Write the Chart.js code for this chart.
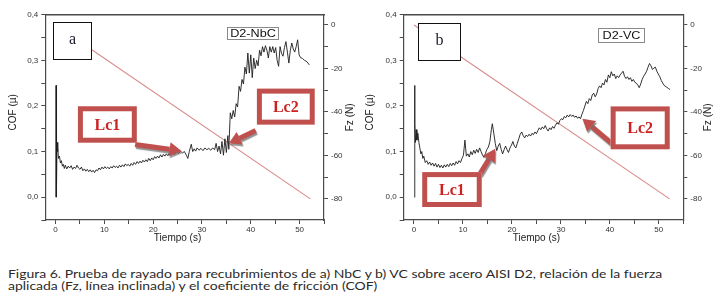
<!DOCTYPE html>
<html><head><meta charset="utf-8">
<script src="https://cdn.jsdelivr.net/npm/chart.js@4/dist/chart.umd.min.js"></script>
<style>
html,body{margin:0;padding:0;background:#fff;}
#wrap{position:relative;width:723px;height:304px;overflow:hidden;background:#fff;}
#ca{position:absolute;left:0;top:0;width:360px;height:250px;}
#cb{position:absolute;left:360px;top:0;width:363px;height:250px;}
#cap{position:absolute;left:8px;top:267.5px;font-family:Lato,'Open Sans',sans-serif;font-size:12px;line-height:12.8px;color:#2b2b2b;white-space:nowrap;transform:scaleX(1.164);transform-origin:0 0;}
</style></head>
<body><div id="wrap">
<canvas id="ca" width="360" height="250"></canvas>
<canvas id="cb" width="363" height="250"></canvas>
<div id="cap">Figura 6. Prueba de rayado para recubrimientos de a) NbC y b) VC sobre acero AISI D2, relación de la fuerza<br>aplicada (Fz, línea inclinada) y el coeficiente de fricción (COF)</div>
</div>
<script>
// ---- data (panel a: D2-NbC) ----
const timeA = [
 0.05,0.1,0.15,0.2,0.25,0.3,0.4,0.5,0.6,0.8,
 1.0,1.2,1.4,1.6,1.8,2.0,2.3,2.6,2.9,3.2,
 3.5,3.8,4.1,4.4,4.7,5.0,5.3,5.6,5.9,6.2,
 6.5,6.8,7.1,7.4,7.7,8.0,8.3,8.6,8.9,9.2,
 9.5,9.8,10.1,10.4,10.7,11.0,11.3,11.6,11.9,12.2,
 12.5,12.8,13.1,13.4,13.7,14.0,14.3,14.6,14.9,15.2,
 15.5,15.8,16.1,16.4,16.7,17.0,17.3,17.6,17.9,18.2,
 18.5,18.8,19.1,19.4,19.7,20.0,20.3,20.6,20.9,21.2,
 21.5,21.8,22.1,22.4,22.7,23.0,23.3,23.6,24.0,24.4,
 24.8,25.2,25.6,26.0,26.4,26.8,27.1,27.4,27.8,28.1,
 28.4,28.7,29.0,29.4,29.8,30.2,30.6,31.0,31.4,31.8,
 32.2,32.6,32.9,33.2,33.5,33.8,34.1,34.4,34.7,35.0,
 35.3,35.5,35.8,36.1,36.4,36.7,37.0,37.3,37.6,37.9,
 38.2,38.5,38.8,39.1,39.4,39.7,40.0,40.3,40.6,40.9,
 41.2,41.5,41.8,42.1,42.4,42.7,43.0,43.3,43.6,43.9,
 44.2,44.5,44.8,45.1,45.4,45.7,46.0,46.3,46.6,46.9,
 47.2,47.5,47.8,48.1,48.4,48.7,49.0,49.3,49.6,49.9,
 50.2,50.6,51.0,51.5,52.0];
const cofA = [
 0.000,0.245,0.000,0.135,0.030,0.120,0.100,0.110,0.085,0.090,
 0.075,0.080,0.068,0.072,0.063,0.070,0.062,0.068,0.064,0.069,
 0.061,0.066,0.063,0.070,0.064,0.061,0.066,0.058,0.062,0.057,
 0.061,0.056,0.060,0.055,0.059,0.054,0.060,0.058,0.064,0.060,
 0.066,0.062,0.067,0.063,0.066,0.062,0.067,0.064,0.069,0.065,
 0.068,0.064,0.070,0.066,0.071,0.067,0.073,0.069,0.072,0.068,
 0.074,0.070,0.076,0.072,0.078,0.074,0.079,0.075,0.081,0.077,
 0.082,0.078,0.085,0.080,0.086,0.082,0.089,0.085,0.090,0.086,
 0.093,0.088,0.094,0.090,0.095,0.091,0.097,0.093,0.098,0.094,
 0.100,0.096,0.101,0.097,0.100,0.092,0.085,0.100,0.116,0.100,
 0.106,0.101,0.108,0.103,0.107,0.102,0.108,0.104,0.107,0.103,
 0.108,0.104,0.118,0.100,0.112,0.095,0.122,0.092,0.128,0.098,
 0.135,0.105,0.185,0.172,0.190,0.176,0.205,0.198,0.243,0.232,
 0.258,0.248,0.285,0.270,0.316,0.272,0.312,0.262,0.305,0.282,
 0.300,0.288,0.322,0.310,0.330,0.318,0.332,0.322,0.305,0.330,
 0.318,0.330,0.316,0.328,0.300,0.287,0.330,0.315,0.309,0.328,
 0.341,0.318,0.294,0.322,0.338,0.325,0.318,0.330,0.345,0.312,
 0.306,0.304,0.300,0.297,0.290];

// ---- data (panel b: D2-VC) ----
const timeB = [
 0.08,0.12,0.16,0.2,0.3,0.45,0.6,0.8,1.0,1.2,
 1.4,1.6,1.8,2.0,2.3,2.6,2.9,3.2,3.5,3.8,
 4.1,4.4,4.7,5.0,5.3,5.6,5.9,6.2,6.5,6.8,
 7.1,7.4,7.7,8.0,8.3,8.6,8.9,9.2,9.5,9.8,
 10.1,10.4,10.7,11.0,11.3,11.6,11.9,12.2,12.5,12.8,
 13.1,13.4,13.7,14.0,14.3,14.6,14.9,15.2,15.5,15.8,
 16.0,16.3,16.6,16.9,17.2,17.5,17.8,18.1,18.4,18.7,
 19.0,19.3,19.6,19.9,20.2,20.5,20.8,21.1,21.4,21.7,
 22.0,22.3,22.6,22.9,23.2,23.5,23.8,24.1,24.4,24.7,
 25.0,25.3,25.6,25.9,26.2,26.5,26.8,27.1,27.4,27.7,
 28.0,28.3,28.6,28.9,29.2,29.5,29.8,30.1,30.4,30.7,
 31.0,31.3,31.6,31.9,32.2,32.5,32.8,33.1,33.4,33.7,
 34.0,34.3,34.6,34.9,35.2,35.5,35.8,36.1,36.4,36.7,
 37.0,37.3,37.6,37.9,38.2,38.5,38.8,39.1,39.4,39.7,
 40.0,40.3,40.6,40.9,41.2,41.5,41.8,42.1,42.4,42.7,
 43.0,43.3,43.6,43.9,44.2,44.5,44.8,45.1,45.4,45.7,
 46.0,46.3,46.6,46.9,47.2,47.5,47.8,48.1,48.4,48.7,
 49.0,49.3,49.6,49.9,50.2,50.5,50.8,51.1,51.5,52.0,
 52.3];
const cofB = [
 0.000,0.245,0.010,0.160,0.120,0.148,0.125,0.140,0.120,0.108,
 0.095,0.100,0.085,0.090,0.076,0.080,0.072,0.077,0.070,0.075,
 0.068,0.074,0.066,0.072,0.065,0.070,0.064,0.071,0.066,0.072,
 0.067,0.074,0.069,0.075,0.070,0.078,0.073,0.080,0.076,0.085,
 0.092,0.125,0.090,0.095,0.088,0.100,0.093,0.103,0.096,0.105,
 0.098,0.108,0.100,0.092,0.087,0.096,0.105,0.110,0.122,0.148,
 0.161,0.140,0.118,0.102,0.112,0.118,0.105,0.095,0.104,0.112,
 0.104,0.098,0.108,0.114,0.122,0.112,0.108,0.118,0.128,0.138,
 0.143,0.135,0.130,0.136,0.133,0.138,0.134,0.140,0.137,0.143,
 0.139,0.146,0.152,0.148,0.154,0.150,0.157,0.150,0.145,0.152,
 0.148,0.155,0.151,0.158,0.163,0.160,0.168,0.172,0.170,0.177,
 0.174,0.180,0.176,0.181,0.177,0.180,0.175,0.178,0.173,0.176,
 0.172,0.182,0.190,0.200,0.210,0.205,0.216,0.212,0.224,0.228,
 0.220,0.226,0.238,0.244,0.240,0.250,0.246,0.258,0.252,0.268,
 0.262,0.275,0.266,0.270,0.260,0.266,0.262,0.268,0.272,0.276,
 0.265,0.260,0.264,0.258,0.262,0.254,0.258,0.252,0.250,0.246,
 0.240,0.248,0.258,0.265,0.270,0.276,0.285,0.293,0.288,0.280,
 0.283,0.285,0.276,0.270,0.264,0.256,0.250,0.245,0.242,0.238,
 0.236];

// applied normal force (inclined line)
const fzTime = [0, 52.2];
const fzForce = [0, -80];

// ---- helpers ----
const RED = '#c0504d';
function drawArrow(ctx, x0, y0, x1, y1) {
  const a = Math.atan2(y1 - y0, x1 - x0), hl = 12, hw = 7;
  const bx = x1 - hl * Math.cos(a), by = y1 - hl * Math.sin(a);
  ctx.beginPath(); ctx.moveTo(x0, y0); ctx.lineTo(bx, by);
  ctx.lineWidth = 5; ctx.lineCap = 'butt'; ctx.stroke();
  ctx.beginPath(); ctx.moveTo(x1, y1);
  ctx.lineTo(bx - hw * Math.sin(a), by + hw * Math.cos(a));
  ctx.lineTo(bx + hw * Math.sin(a), by - hw * Math.cos(a));
  ctx.closePath(); ctx.fill();
}

const decoPlugin = {
  id: 'deco',
  afterDatasetsDraw(chart, args, o) {
    const ctx = chart.ctx, xs = chart.scales.x, ys = chart.scales.y, ca = chart.chartArea;
    const px = t => xs.getPixelForValue(t), py = c => ys.getPixelForValue(c);
    ctx.save();
    // letter box
    {
      const b = o.letter.box;
      const x0 = Math.round(px(b[0])) + 0.5, x1 = Math.round(px(b[1])) + 0.5;
      const y0 = Math.round(py(b[2])) + 0.5, y1 = Math.round(py(b[3])) + 0.5;
      ctx.fillStyle = '#fff'; ctx.fillRect(x0, y0, x1 - x0, y1 - y0);
      ctx.strokeStyle = '#111'; ctx.lineWidth = 1; ctx.strokeRect(x0, y0, x1 - x0, y1 - y0);
      ctx.fillStyle = '#1a1a2a'; ctx.font = '16px "Liberation Serif"';
      ctx.textAlign = 'center'; ctx.textBaseline = 'middle';
      ctx.fillText(o.letter.text, (x0 + x1) / 2, (y0 + y1) / 2 - 1);
    }
    // sample tag
    {
      const b = o.tag.box;
      const x0 = Math.round(px(b[0])) + 0.5, x1 = Math.round(px(b[1])) + 0.5;
      const y0 = Math.round(py(b[2])) + 0.5, y1 = Math.round(py(b[3])) + 0.5;
      ctx.fillStyle = '#fff'; ctx.fillRect(x0, y0, x1 - x0, y1 - y0);
      ctx.strokeStyle = '#8a8a8a'; ctx.lineWidth = 1; ctx.strokeRect(x0, y0, x1 - x0, y1 - y0);
      ctx.save();
      ctx.translate((x0 + x1) / 2, (y0 + y1) / 2 + 0.5);
      ctx.scale(1.15, 1);
      ctx.fillStyle = '#111'; ctx.font = '11px "Liberation Sans"';
      ctx.textAlign = 'center'; ctx.textBaseline = 'middle';
      ctx.fillText(o.tag.text, 0, 0);
      ctx.restore();
    }
    // Lc annotations
    for (const m of o.marks) {
      ctx.save();
      ctx.shadowColor = 'rgba(110,110,110,0.75)';
      ctx.shadowOffsetX = 1; ctx.shadowOffsetY = 2; ctx.shadowBlur = 1;
      ctx.strokeStyle = RED; ctx.fillStyle = RED;
      drawArrow(ctx, px(m.from[0]), py(m.from[1]), px(m.to[0]), py(m.to[1]));
      ctx.restore();
      const x0 = px(m.box[0]), x1 = px(m.box[1]), y0 = py(m.box[2]), y1 = py(m.box[3]);
      ctx.fillStyle = '#fff'; ctx.fillRect(x0, y0, x1 - x0, y1 - y0);
      ctx.strokeStyle = RED; ctx.lineWidth = 5;
      ctx.strokeRect(x0 + 2.5, y0 + 2.5, x1 - x0 - 5, y1 - y0 - 5);
      ctx.fillStyle = '#cc2222'; ctx.font = 'bold 16px "Liberation Serif"';
      ctx.textAlign = 'center'; ctx.textBaseline = 'middle';
      ctx.fillText(m.text, (x0 + x1) / 2, (y0 + y1) / 2 + 1);
    }
    // axis titles
    ctx.fillStyle = '#222'; ctx.font = '10px "Liberation Sans"';
    ctx.textAlign = 'center'; ctx.textBaseline = 'middle';
    const mid = (ca.top + ca.bottom) / 2;
    ctx.save(); ctx.translate(ca.left - o.cofDx, mid - 5); ctx.rotate(-Math.PI / 2);
    ctx.fillText('COF (µ)', 0, 0); ctx.restore();
    ctx.save(); ctx.translate(ca.right + o.fzDx, mid); ctx.rotate(-Math.PI / 2);
    ctx.fillText('Fz (N)', 0, 0); ctx.restore();
    ctx.fillText('Tiempo (s)', px(25), ca.bottom + 18);
    ctx.restore();
  }
};

const AX = '#4a4a4a';
const tickFont = {size: 8, family: '"Liberation Sans"'};
function makeChart(id, times, cofs, leftW, rightW, deco) {
  return new Chart(document.getElementById(id), {
    type: 'line',
    data: {
      datasets: [
        {data: times.map((t, i) => ({x: t, y: cofs[i]})), yAxisID: 'y',
         borderColor: '#1c1c1c', borderWidth: 0.9, pointRadius: 0, tension: 0},
        {data: fzTime.map((t, i) => ({x: t, y: fzForce[i]})), yAxisID: 'y2',
         borderColor: '#d98a8a', borderWidth: 1.1, pointRadius: 0, tension: 0}
      ]
    },
    options: {
      responsive: false, animation: false, maintainAspectRatio: false,
      layout: {padding: {top: 14.7, left: 0, right: 0, bottom: 0}},
      plugins: {legend: {display: false}, tooltip: {enabled: false}, deco: deco},
      scales: {
        x: {type: 'linear', position: 'bottom', min: -2.1, max: 55,
            ticks: {stepSize: 5, includeBounds: false, autoSkip: false, maxRotation: 0, padding: 1,
                    font: tickFont, color: '#333', callback: v => (v % 10 === 0 ? String(v) : '')},
            grid: {drawOnChartArea: false, drawTicks: true, tickLength: 4, color: AX},
            border: {display: true, color: AX, width: 1.2},
            afterFit: s => { s.height = 30; }},
        xt: {type: 'linear', position: 'top', min: -2.1, max: 55,
             ticks: {display: false}, grid: {display: false, drawTicks: false},
             border: {display: true, color: AX, width: 1.4},
             afterFit: s => { s.height = 0; }},
        y: {type: 'linear', position: 'left', min: -0.05, max: 0.4,
            ticks: {stepSize: 0.05, padding: 3, font: tickFont, color: '#333',
                    callback: v => (Math.abs(v * 10 - Math.round(v * 10)) < 1e-6 ? v.toFixed(1).replace('.', ',') : '')},
            grid: {drawOnChartArea: false, drawTicks: true, tickLength: 4, color: AX},
            border: {display: true, color: AX, width: 1.2},
            afterFit: s => { s.width = leftW; }},
        y2: {type: 'linear', position: 'right', min: -89.7, max: 4.7,
             ticks: {stepSize: 10, includeBounds: false, padding: 3, font: tickFont, color: '#333',
                     callback: v => (v % 20 === 0 ? String(v) : '')},
             grid: {drawOnChartArea: false, drawTicks: true, tickLength: 4, color: AX},
             border: {display: true, color: AX, width: 1.2},
             afterFit: s => { s.width = rightW; }}
      }
    },
    plugins: [decoPlugin]
  });
}

makeChart('ca', timeA, cofA, 45.3, 36, {
  letter: {text: 'a', box: [-0.6, 7.36, 0.3836, 0.302]},
  tag: {text: 'D2-NbC', box: [35.05, 45.6, 0.3727, 0.3465]},
  marks: [
    {text: 'Lc1', box: [4.58, 16.65, 0.1993, 0.1194], from: [16.3, 0.1157], to: [25.8, 0.1015]},
    {text: 'Lc2', box: [41.25, 53.1, 0.238, 0.159], from: [41.0, 0.146], to: [35.5, 0.118]}
  ],
  cofDx: 32.3, fzDx: 26
});
makeChart('cb', timeB, cofB, 43.7, 39.7, {
  letter: {text: 'b', box: [0.82, 9.41, 0.381, 0.301]},
  tag: {text: 'D2-VC', box: [37.6, 47.0, 0.370, 0.341]},
  marks: [
    {text: 'Lc1', box: [1.68, 13.84, 0.055, -0.0215], from: [13.4, 0.05], to: [16.6, 0.106]},
    {text: 'Lc2', box: [40.16, 52.23, 0.199, 0.105], from: [40.4, 0.118], to: [34.4, 0.172]}
  ],
  cofDx: 33.7, fzDx: 25
});
</script>
</body></html>
